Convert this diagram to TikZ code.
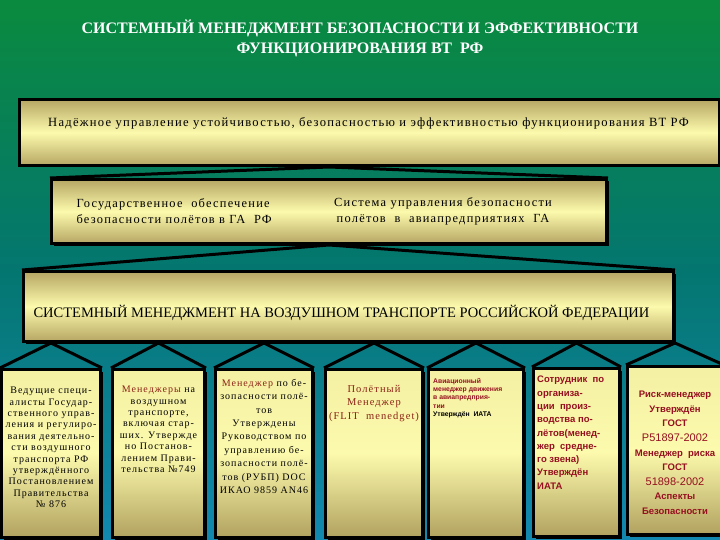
\documentclass[tikz,border=0pt]{standalone}
\usepackage{fontspec}
\setmainfont{Liberation Serif}
\newfontfamily\spaced[LetterSpace=10]{Liberation Serif}
\newfontfamily\arial{Liberation Sans}
\usetikzlibrary{positioning,shadows}
\definecolor{bgtop}{RGB}{10,138,62}
\definecolor{bgmid}{RGB}{4,118,112}
\definecolor{bgbot}{RGB}{18,136,176}
\definecolor{paper}{RGB}{252,250,172}
\definecolor{khaki}{RGB}{182,166,100}
\definecolor{olive}{RGB}{150,138,70}
\definecolor{ink}{RGB}{150,16,32}
\definecolor{brick}{RGB}{140,34,20}
\begin{document}
\begin{tikzpicture}[x=1pt, y=-1pt,
		card/.style={draw=black, line width=3pt, inner sep=0pt, anchor=north west,
			top color=khaki, bottom color=khaki, middle color=paper,
			drop shadow={shadow xshift=2pt, shadow yshift=-2pt, opacity=1, fill=black}},
		leaf/.style={card, top color=paper!88!khaki, bottom color=khaki!85!olive, middle color=paper, minimum height=168pt},
		roof/.style={line width=3pt, line join=miter},
		leaf text/.style={font=\spaced\fontsize{10}{11.4}\selectfont, align=center, anchor=north, inner sep=0pt},
		sans text/.style={font=\arial\bfseries\fontsize{9.5}{13.3}\selectfont, text=ink, inner sep=0pt}]
	\shade[top color=bgtop, bottom color=bgbot, middle color=bgmid] (0,0) rectangle (720,540);
	\useasboundingbox (0,0) rectangle (720,540);
	\node[font=\bfseries\fontsize{16}{20}\selectfont, text=white, align=center] (title) at (360,38)
		{СИСТЕМНЫЙ МЕНЕДЖМЕНТ БЕЗОПАСНОСТИ И ЭФФЕКТИВНОСТИ\\ФУНКЦИОНИРОВАНИЯ ВТ\ \ РФ};
	\node[card, minimum width=700pt, minimum height=66pt] (goal) at (18,98) {};
	\node[card, minimum width=555pt, minimum height=64pt] (state) at (50,178) {};
	\node[card, minimum width=650pt, minimum height=70pt] (sys) at (22,270) {};
	\draw[roof] (state.north west) -- (state.north |- goal.south) -- (state.north east);
	\draw[roof] (sys.north west) -- (state.south) -- (sys.north east);
	\node[font=\spaced\fontsize{12.6}{14}\selectfont] (goaltext) at ([xshift=-1pt, yshift=-25pt]goal.north)
		{Надёжное управление устойчивостью, безопасностью и эффективностью функционирования ВТ РФ};
	\node[font=\spaced\fontsize{12.4}{16}\selectfont, align=left, anchor=west] (stateleft) at ([xshift=23pt]state.west)
		{Государственное\ \ обеспечение\\безопасности полётов в ГА\ \ РФ};
	\node[font=\spaced\fontsize{12.4}{16}\selectfont, align=center] (stateright) at ([xshift=114pt]state.center)
		{Система управления безопасности\\полётов\ \ в\ \ авиапредприятиях\ \ ГА};
	\node[font=\fontsize{14.5}{16}\selectfont] (systext) at ([xshift=-7pt, yshift=-43pt]sys.north)
		{СИСТЕМНЫЙ МЕНЕДЖМЕНТ НА ВОЗДУШНОМ ТРАНСПОРТЕ РОССИЙСКОЙ ФЕДЕРАЦИИ};
	\foreach \name/\x/\y/\w in {b1/0/368/99pt, b2/111/368/92pt, b3/214/368/97pt, b4/324/368/97pt,
			b5/427/368/95pt, b6/532/367/86pt, b7/626/365/95pt}{
		\node[leaf, minimum width=\w] (\name) at (\x,\y) {};
		\draw[roof] (\name.north west) -- (\name.north |- sys.south) -- (\name.north east);
	}
	\node[leaf text] (t1) at ([yshift=-19pt]b1.north)
		{Ведущие специ-\\алисты Государ-\\ственного управ-\\ления и регулиро-\\вания деятельно-\\сти воздушного\\транспорта РФ\\утверждённого\\Постановлением\\Правительства\\№ 876};
	\node[leaf text] (t2) at ([yshift=-18pt]b2.north)
		{\textcolor{brick}{Менеджеры} на\\воздушном\\транспорте,\\включая стар-\\ших. Утвержде\\но Постанов-\\лением Прави-\\тельства №749};
	\node[leaf text, font=\spaced\fontsize{10}{13.4}\selectfont] (t3) at ([yshift=-11pt]b3.north)
		{\textcolor{brick}{Менеджер} по бе-\\зопасности полё-\\тов\\Утверждены\\Руководством по\\управлению бе-\\зопасности полё-\\тов (РУБП) DOC\\ИКАО 9859 AN46};
	\node[leaf text, font=\spaced\fontsize{10.5}{13.5}\selectfont, text=brick] (t4) at ([yshift=-17pt]b4.north)
		{Полётный\\Менеджер\\(FLIT\ \ menedget)};
	\node[sans text, font=\arial\bfseries\fontsize{6.8}{8.3}\selectfont, align=left, anchor=north west] (t5) at ([xshift=6pt, yshift=-10pt]b5.north west)
		{Авиационный\\менеджер движения\\в авиапредприя-\\тии\\\textcolor{black}{Утверждён\ \ ИАТА}};
	\node[sans text, align=left, anchor=north west] (t6) at ([xshift=5pt, yshift=-9pt]b6.north west)
		{Сотрудник\ \ по\\организа-\\ции\ \ произ-\\водства по-\\лётов(менед-\\жер\ \ средне-\\го звена)\\Утверждён\\ИАТА};
	\node[sans text, align=center, anchor=north, font=\arial\bfseries\fontsize{9.5}{14.6}\selectfont] (t7) at ([yshift=-26pt]b7.north)
		{Риск-менеджер\\Утверждён\\ГОСТ\\{\mdseries\fontsize{11}{14.6}\selectfont Р51897-2002}\\Менеджер\ \ риска\\ГОСТ\\{\mdseries\fontsize{11}{14.6}\selectfont 51898-2002}\\Аспекты\\Безопасности};
\end{tikzpicture}
\end{document}
